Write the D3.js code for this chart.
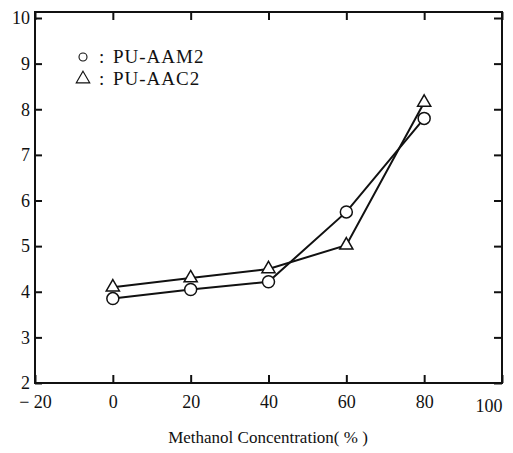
<!DOCTYPE html>
<html>
<head>
<meta charset="utf-8">
<script src="https://cdn.jsdelivr.net/npm/d3@7"></script>
<style>
body { margin: 0; background: #fff; overflow: hidden; }
text { font-family: "Liberation Serif", "DejaVu Serif", serif; fill: #111; }
</style>
</head>
<body>
<div id="chart"></div>
<script>
var concentration = [0, 20, 40, 60, 80];
var aam2 = [3.85, 4.05, 4.22, 5.75, 7.8];
var aac2 = [4.1, 4.3, 4.5, 5.02, 8.15];
var xTicks = [-20, 0, 20, 40, 60, 80, 100];
var yTicks = [2, 3, 4, 5, 6, 7, 8, 9, 10];

var margin = {top: 12, right: 11, bottom: 70, left: 35},
    width = 513 - margin.left - margin.right,
    height = 453 - margin.top - margin.bottom;

var xScale = d3.scaleLinear()
    .domain([-20, 100])
    .range([0, width]);

var yScale = d3.scaleLinear()
    .domain([2, 10])
    .range([height, 6]);

var svg = d3.select("#chart").append("svg")
    .attr("width", 513)
    .attr("height", 453)
    .style("display", "block")
    .append("g")
    .attr("transform", "translate(" + margin.left + "," + margin.top + ")");

// frame
svg.append("rect")
    .attr("x", 0).attr("y", 0)
    .attr("width", width).attr("height", height)
    .attr("fill", "none")
    .attr("stroke", "#111")
    .attr("stroke-width", 2);

var fmtX = function(d) { return d < 0 ? "\u2212 " + Math.abs(d) : d; };

svg.append("g")
    .attr("transform", "translate(0," + height + ")")
    .call(d3.axisBottom(xScale).tickValues(xTicks).tickSize(-8).tickPadding(12).tickFormat(fmtX))
    .call(function(g) {
        g.select(".domain").remove();
        g.selectAll("line").attr("stroke", "#111").attr("stroke-width", 2);
        g.selectAll("text").style("font-size", "18px").attr("fill", "#111");
        // last label sits inside the right edge, as in the original
        g.selectAll("text").filter(function(d) { return d === 100; })
            .attr("text-anchor", "end").attr("dy", "0.95em");
    });

svg.append("g")
    .call(d3.axisTop(xScale).tickValues(xTicks).tickSize(-8).tickFormat(""))
    .call(function(g) {
        g.select(".domain").remove();
        g.selectAll("line").attr("stroke", "#111").attr("stroke-width", 2);
    });

svg.append("g")
    .call(d3.axisLeft(yScale).tickValues(yTicks).tickSize(-7).tickPadding(5))
    .call(function(g) {
        g.select(".domain").remove();
        g.selectAll("line").attr("stroke", "#111").attr("stroke-width", 2);
        g.selectAll("text").style("font-size", "18px").attr("fill", "#111");
    });

svg.append("g")
    .attr("transform", "translate(" + width + ",0)")
    .call(d3.axisRight(yScale).tickValues(yTicks).tickSize(-8).tickFormat(""))
    .call(function(g) {
        g.select(".domain").remove();
        g.selectAll("line").attr("stroke", "#111").attr("stroke-width", 2);
    });

var line = d3.line()
    .x(function(d) { return xScale(d[0]); })
    .y(function(d) { return yScale(d[1]); });

var circData = concentration.map(function(c, i) { return [c, aam2[i]]; });
var triData = concentration.map(function(c, i) { return [c, aac2[i]]; });

svg.append("path")
    .datum(triData)
    .attr("d", line)
    .attr("fill", "none")
    .attr("stroke", "#111")
    .attr("stroke-width", 2);

svg.append("path")
    .datum(circData)
    .attr("d", line)
    .attr("fill", "none")
    .attr("stroke", "#111")
    .attr("stroke-width", 2);

var tri = d3.symbol().type(d3.symbolTriangle).size(75);

svg.selectAll(".tri")
    .data(triData)
    .enter().append("path")
    .attr("class", "tri")
    .attr("d", tri)
    .attr("transform", function(d) { return "translate(" + xScale(d[0]) + "," + yScale(d[1]) + ")"; })
    .attr("fill", "#fff")
    .attr("stroke", "#111")
    .attr("stroke-width", 1.5);

svg.selectAll(".circ")
    .data(circData)
    .enter().append("circle")
    .attr("class", "circ")
    .attr("cx", function(d) { return xScale(d[0]); })
    .attr("cy", function(d) { return yScale(d[1]); })
    .attr("r", 6)
    .attr("fill", "#fff")
    .attr("stroke", "#111")
    .attr("stroke-width", 1.5);

// legend
svg.append("circle")
    .attr("cx", 48).attr("cy", 45).attr("r", 4)
    .attr("fill", "#fff").attr("stroke", "#111").attr("stroke-width", 1.1);
svg.append("text").attr("x", 64).attr("y", 51).style("font-size", "19px").text(":");
svg.append("text").attr("x", 78).attr("y", 51).style("font-size", "19px")
    .style("letter-spacing", "1px").text("PU-AAM2");

svg.append("path")
    .attr("d", d3.symbol().type(d3.symbolTriangle).size(80))
    .attr("transform", "translate(48,67)")
    .attr("fill", "#fff").attr("stroke", "#111").attr("stroke-width", 1.1);
svg.append("text").attr("x", 64).attr("y", 73).style("font-size", "19px").text(":");
svg.append("text").attr("x", 78).attr("y", 73).style("font-size", "19px")
    .style("letter-spacing", "1px").text("PU-AAC2");

svg.append("text")
    .attr("x", 268 - margin.left)
    .attr("y", 443 - margin.top)
    .style("text-anchor", "middle")
    .style("font-size", "17px")
    .text("Methanol Concentration( % )");
</script>
</body>
</html>
